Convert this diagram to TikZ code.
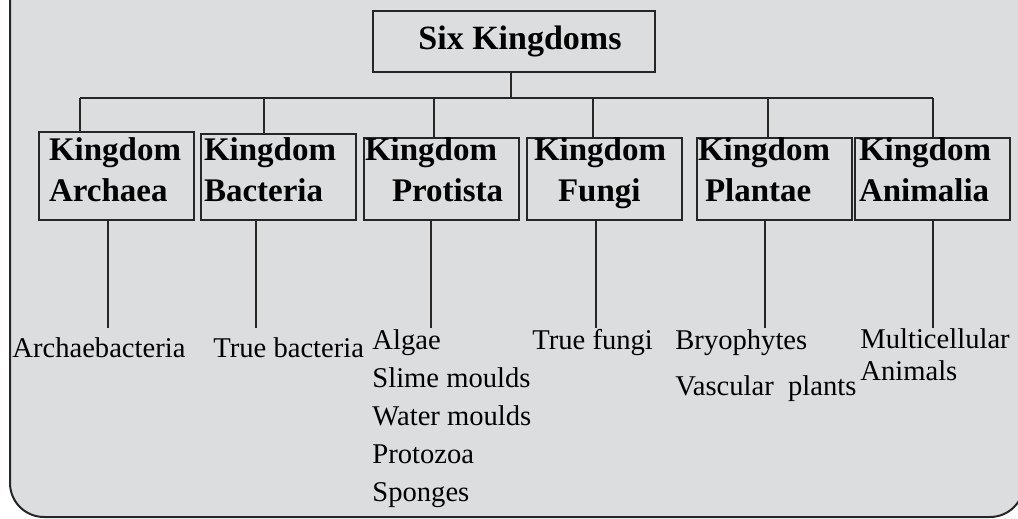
\documentclass[tikz,border=0pt]{standalone}
\usepackage{fontspec}
\setmainfont{Liberation Serif}
\definecolor{panel}{HTML}{DCDDDF}
\definecolor{ink}{HTML}{262626}

\begin{document}
\begin{tikzpicture}[x=0.5pt,y=-0.5pt,
	kbox/.style={draw=ink,line width=1pt,anchor=south west,align=left,
		font=\fontsize{16.5}{20.5}\selectfont\bfseries,
		text height=11.5pt,text depth=29.5pt,inner ysep=0pt,inner xsep=#1,text width={77.5pt-2*#1}},
	leaf/.style={anchor=base west,align=left,inner sep=0pt,text=black,font=\fontsize{14.3}{19}\selectfont},
	link/.style={draw=ink,line width=1pt}]
	\useasboundingbox (0,0) rectangle (1018,519);
	\clip (0,0) rectangle (1018,519);
	
	% Panel
	\draw[ink,line width=1pt,fill=panel,rounded corners=17pt] (10,-40) rectangle (1024,517);
	
	% Root
	\node[draw=ink,line width=1pt,minimum width=141pt,minimum height=30.5pt,
		font=\fontsize{17}{19}\selectfont\bfseries] (root) at (514,41.5) {\hspace*{6pt}Six Kingdoms};
	
	% Kingdoms
	\node[kbox=5pt,text height=14.5pt] (k1) at (38,221) {Kingdom\\Archaea};
	\node[kbox=1.5pt,text height=13.5pt] (k2) at (200,221) {Kingdom\\Bacteria};
	\node[kbox=0.5pt] (k3) at (363,221) {Kingdom\\\hspace*{13.5pt}Protista};
	\node[kbox=3.5pt] (k4) at (526,221) {Kingdom\\\hspace*{12pt}Fungi};
	\node[kbox=0.5pt] (k5) at (696,221) {Kingdom\\\hspace*{3.5pt}Plantae};
	\node[kbox=2pt] (k6) at (854,221) {Kingdom\\Animalia};
	
	% Branches
	\coordinate (hub) at (511,98);
	\draw[link] (hub |- root.south) -- (hub);
	\foreach \i/\x in {1/80,2/264,3/434,4/593,5/768,6/933}
		\coordinate (d\i) at (\x,98);
	\draw[link] (d1) -- (d6);
	\foreach \i in {1,...,6}
		\draw[link] (d\i) -- (d\i |- k\i.north);
	
	% Groups (base = last line)
	\node[leaf] (g1) at (12,357) {Archaebacteria};
	\node[leaf] (g2) at (213,357) {True bacteria};
	\node[leaf] (g3) at (372,501) {Algae\\Slime moulds\\Water moulds\\Protozoa\\Sponges};
	\node[leaf] (g4) at (532,349) {True fungi};
	\node[leaf,font=\fontsize{14.3}{23}\selectfont] (g5) at (675,395) {Bryophytes\\Vascular\ \ plants};
	\node[leaf,font=\fontsize{14.3}{16}\selectfont] (g6) at (860,380) {Multicellular\\Animals};
	
	\foreach \i/\x in {1/108,2/256,3/431,4/596,5/765,6/933}
		\coordinate (s\i) at (\x,328);
	\foreach \i in {1,...,6}
		\draw[link] (s\i |- k\i.south) -- (s\i);

\end{tikzpicture}
\end{document}
